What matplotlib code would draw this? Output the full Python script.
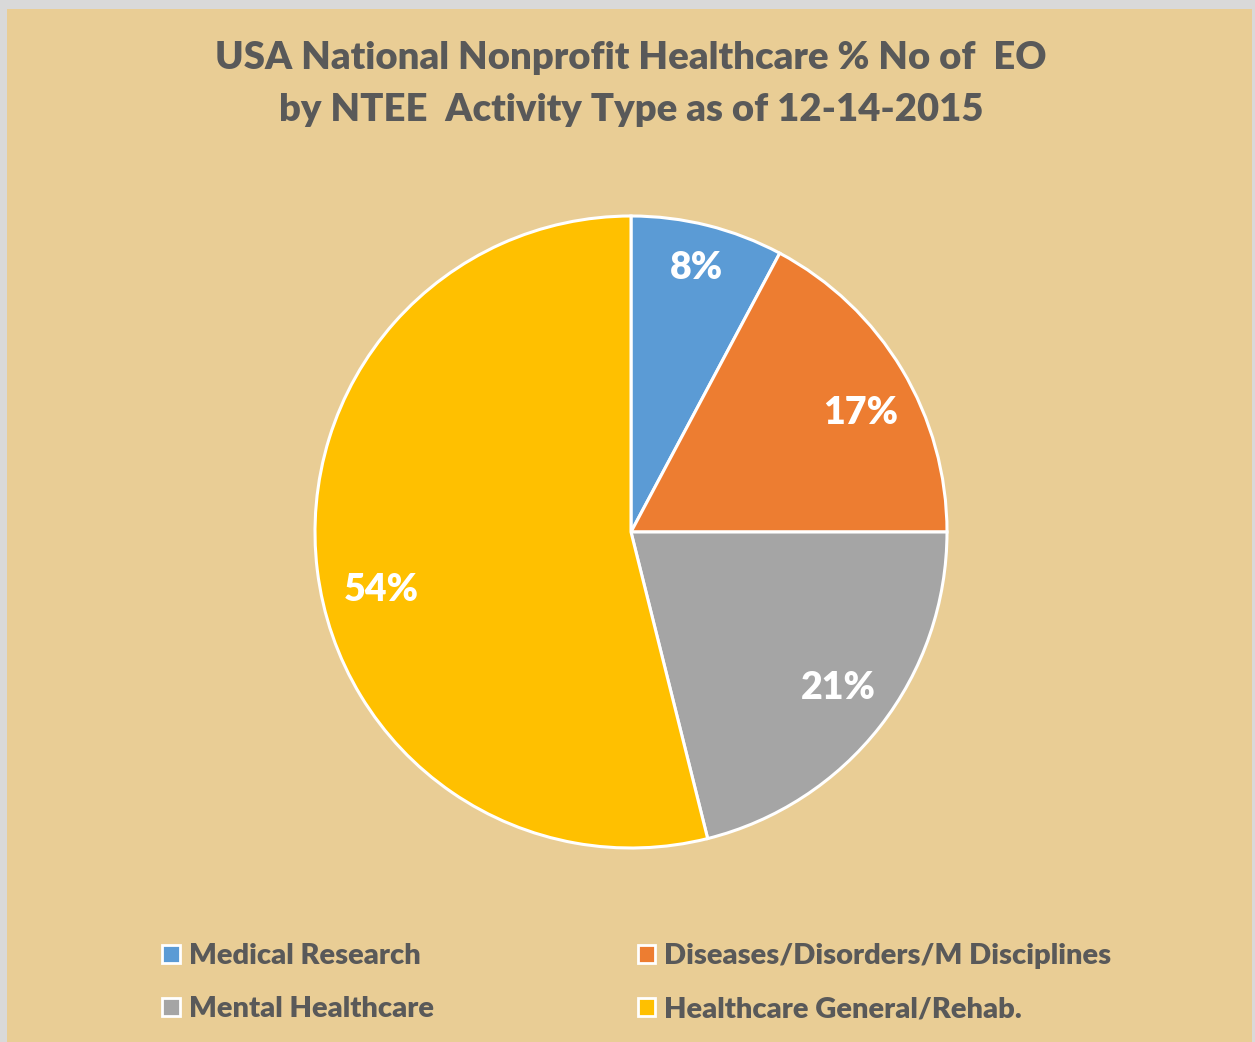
import math

import matplotlib
matplotlib.use("Agg")
from matplotlib import pyplot as plt
from matplotlib.patches import Rectangle

labels = ["Medical Research", "Diseases/Disorders/M Disciplines",
          "Mental Healthcare", "Healthcare General/Rehab."]
values = [7.8, 17.2, 21.1, 53.9]
pct_text = ["8%", "17%", "21%", "54%"]
colors = ["#5B9BD5", "#ED7D31", "#A5A5A5", "#FFC000"]

title_lines = ["USA National Nonprofit Healthcare % No of  EO",
               "by NTEE  Activity Type as of 12-14-2015"]

W, H = 1255, 1042
plt.rcParams['font.family'] = ['Lato', 'DejaVu Sans']
text_grey = "#595959"
weight = "heavy"

fig = plt.figure(figsize=(W / 100, H / 100), dpi=100)
fig.patch.set_facecolor("#D9D9D9")
fig.add_artist(Rectangle((7 / W, 0), (1252 - 7) / W, (H - 9) / H,
                         transform=fig.transFigure, facecolor="#E9CD95",
                         edgecolor="none", zorder=0))

# pie, centre at (631, 532) px, radius 316 px
cx, cy, r = 631, H - 532, 316
ax = fig.add_axes([(cx - r) / W, (cy - r) / H, 2 * r / W, 2 * r / H])
wedges, _ = ax.pie(values, colors=colors, startangle=90, counterclock=False,
                   radius=1, wedgeprops=dict(edgecolor="white", linewidth=2.2))
ax.set_xlim(-1, 1)
ax.set_ylim(-1, 1)
ax.set_aspect("equal")
ax.axis("off")

# percent labels (small nudges to sit like the excel ones)
nudge = {"8%": (0.0, 0.86), "17%": (-3.5, 0.82), "21%": (1.0, 0.82), "54%": (6.0, 0.81)}
for w, t in zip(wedges, pct_text):
    da, d = nudge[t]
    mid = math.radians((w.theta1 + w.theta2) / 2 + da)
    ax.text(d * math.cos(mid), d * math.sin(mid), t, ha="center", va="center",
            color="white", fontsize=27, fontweight=weight)

fig.text(631 / W, 1 - 58 / H, title_lines[0], ha="center", va="center",
         fontsize=27.5, color=text_grey, fontweight=weight)
fig.text(631 / W, 1 - 110 / H, title_lines[1], ha="center", va="center",
         fontsize=27.5, color=text_grey, fontweight=weight)

handles = [Rectangle((0, 0), 1, 1, facecolor=c, edgecolor="white", linewidth=2)
           for c in colors]
order = [0, 2, 1, 3]
leg = fig.legend([handles[i] for i in order], [labels[i] for i in order],
                 ncol=2, loc="upper left", bbox_to_anchor=(139 / W, 1 - 920 / H),
                 frameon=False, fontsize=21, handlelength=0.6, handleheight=0.6,
                 handletextpad=0.3, columnspacing=7.0, labelspacing=0.92,
                 borderpad=0.3)
for t in leg.get_texts():
    t.set_color(text_grey)
    t.set_fontweight(weight)

fig.savefig("out.png", dpi=100, facecolor=fig.get_facecolor())
